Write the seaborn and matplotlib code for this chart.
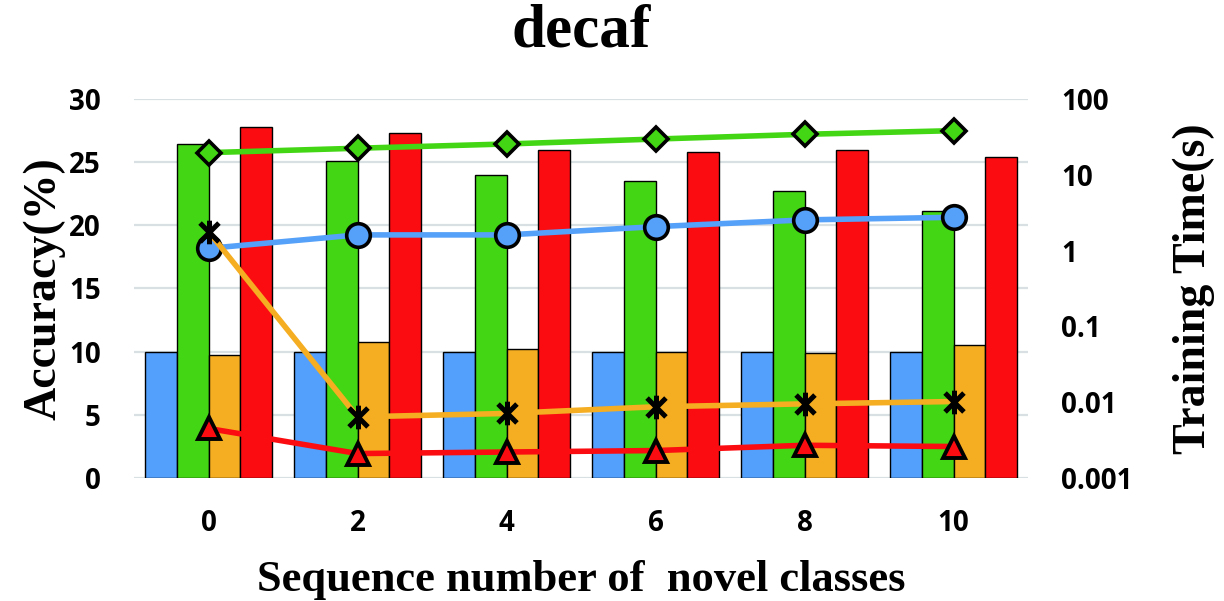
import numpy as np
import pandas as pd
import matplotlib
matplotlib.use("Agg")
import matplotlib.pyplot as plt
from matplotlib.path import Path
from matplotlib.ticker import FixedLocator, NullLocator
import seaborn as sns

# ---- data -------------------------------------------------------------
seq_labels = ["0", "2", "4", "6", "8", "10"]
methods = ["M1", "M2", "M3", "M4"]

acc_m1 = [10.0, 10.0, 10.0, 10.0, 10.0, 10.0]
acc_m2 = [26.4, 25.1, 24.0, 23.5, 22.7, 21.1]
acc_m3 = [9.7, 10.8, 10.2, 10.0, 9.9, 10.5]
acc_m4 = [27.8, 27.3, 26.0, 25.8, 26.0, 25.4]

time_m1 = [1.07, 1.61, 1.61, 2.07, 2.54, 2.75]
time_m2 = [19.6, 22.4, 25.5, 29.6, 34.2, 38.2]
time_m3 = [1.78, 0.0064, 0.0071, 0.0087, 0.0095, 0.0102]
time_m4 = [0.0045, 0.0021, 0.0022, 0.0023, 0.0027, 0.0026]

acc_ticks = [0, 5, 10, 15, 20, 25, 30]
time_ticks = [0.001, 0.01, 0.1, 1, 10, 100]
time_tick_labels = ["0.001", "0.01", "0.1", "1", "10", "100"]

# ---- styling ----------------------------------------------------------
c_blue = "#529ffc"
c_green = "#42d614"
c_orange = "#f5ad21"
c_red = "#fb0c11"
bar_colors = [c_blue, c_green, c_orange, c_red]

sns.set_theme(style="white")
plt.rcParams.update({
    "text.color": "black",
    "axes.labelcolor": "black",
    "xtick.color": "black",
    "ytick.color": "black",
})
serif = "Liberation Serif"
tick_font = "Open Sans"

acc_df = pd.DataFrame({
    "seq": np.repeat(seq_labels, len(methods)),
    "method": methods * len(seq_labels),
    "acc": np.column_stack([acc_m1, acc_m2, acc_m3, acc_m4]).ravel(),
})

fig = plt.figure(figsize=(12.24, 6.01), dpi=100)
ax = fig.add_axes([0.1095, 0.2047, 0.7305, 0.6306])

sns.barplot(data=acc_df, x="seq", y="acc", hue="method",
            order=seq_labels, hue_order=methods, palette=bar_colors,
            saturation=1, width=0.85, edgecolor="black", linewidth=1.0,
            legend=False, ax=ax, zorder=2)

ax.set_ylim(0, 30)
ax.set_yticks(acc_ticks)
ax.yaxis.grid(True, color="#d8e0e3", linewidth=1.6, zorder=0)
ax.xaxis.grid(False)
ax.set_axisbelow(True)
for s in ax.spines.values():
    s.set_visible(False)
ax.tick_params(axis="both", length=0)
ax.tick_params(axis="y", pad=24)
ax.tick_params(axis="x", pad=22)
for lab in ax.get_xticklabels() + ax.get_yticklabels():
    lab.set_fontfamily(tick_font)
    lab.set_fontweight("bold")
    lab.set_fontsize(20)
    lab.set_color("black")

# ---- training time (right axis, log scale) ---------------------------
ax2 = ax.twinx()
xpos = np.arange(len(seq_labels))

star = Path([(-1, -1), (1, 1), (-1, 1), (1, -1), (0, -1.25), (0, 1.25)],
            [Path.MOVETO, Path.LINETO, Path.MOVETO, Path.LINETO,
             Path.MOVETO, Path.LINETO])

sns.lineplot(x=xpos, y=time_m2, ax=ax2, color=c_green, linewidth=4,
             marker="D", markersize=12, markerfacecolor=c_green,
             markeredgecolor="black", markeredgewidth=2.6)
sns.lineplot(x=xpos, y=time_m1, ax=ax2, color="#55a0f8", linewidth=4,
             marker="o", markersize=17, markerfacecolor="#55a0f8",
             markeredgecolor="black", markeredgewidth=2.6)
sns.lineplot(x=xpos, y=time_m3, ax=ax2, color=c_orange, linewidth=4,
             marker=star, markersize=17, markerfacecolor="none",
             markeredgecolor="black", markeredgewidth=3.6)
sns.lineplot(x=xpos, y=time_m4, ax=ax2, color=c_red, linewidth=4,
             marker="^", markersize=16, markerfacecolor=c_red,
             markeredgecolor="black", markeredgewidth=2.8)

ax2.set_yscale("log")
ax2.set_ylim(0.001, 100)
ax2.yaxis.set_major_locator(FixedLocator(time_ticks))
ax2.yaxis.set_minor_locator(NullLocator())
ax2.set_yticklabels(time_tick_labels)
ax2.grid(False)
for s in ax2.spines.values():
    s.set_visible(False)
ax2.tick_params(axis="y", length=0, pad=24)
for lab in ax2.get_yticklabels():
    lab.set_fontfamily(tick_font)
    lab.set_fontweight("bold")
    lab.set_fontsize(20)
    lab.set_color("black")

ax.set_xlim(-0.5, 5.5)

# ---- labels -----------------------------------------------------------
ax.set_xlabel("Sequence number of  novel classes", fontfamily=serif,
              fontweight="bold", fontsize=32, labelpad=16, color="black")
ax.set_ylabel("Accuracy(%)", fontfamily=serif, fontweight="bold",
              fontsize=33, color="black")
ax.yaxis.set_label_coords(-0.077, 0.5)
ax2.set_ylabel("Training Time(s)", fontfamily=serif, fontweight="bold",
               fontsize=33, color="black")
ax2.yaxis.set_label_coords(1.162, 0.5)
ax.set_title("decaf", fontfamily=serif, fontweight="bold", fontsize=44,
             pad=38, color="black")

fig.savefig("out.png", dpi=100)
